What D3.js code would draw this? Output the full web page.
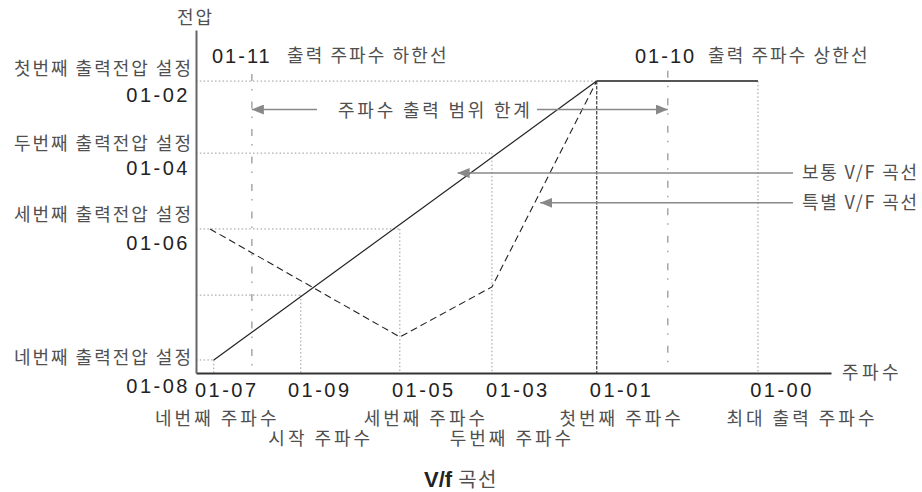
<!DOCTYPE html>
<html><head><meta charset="utf-8">
<script src="https://cdn.jsdelivr.net/npm/d3@7"></script>
<style>
html,body{margin:0;padding:0;background:#fff;}
svg{display:block;}
.kr{font-family:"Noto Sans CJK KR","Noto Sans",sans-serif;fill:#505050;}
.num{font-family:"Liberation Sans",Arial,sans-serif;fill:#222;}
</style></head>
<body>
<svg id="chart" width="922" height="492"></svg>
<script>
// ---- data (abstract frequency / voltage units) ----
const bottomTicks = ["01-07","01-09","01-05","01-03","01-01","01-00"];
const bottomFreq  = [2.8, 16.5, 32.1, 46.6, 63.1, 88.5];
const bottomNames = ["네번째 주파수","시작 주파수","세번째 주파수","두번째 주파수","첫번째 주파수","최대 출력 주파수"];
const limitTicks  = ["01-11","01-10"];
const limitFreq   = [8.8, 74.3];
const limitNames  = ["출력 주파수 하한선","출력 주파수 상한선"];
const voltTicks   = ["01-02","01-04","01-06","01-08"];
const voltValues  = [85.1, 64.1, 42.0, 3.8];
const voltNames   = ["첫번째 출력전압 설정","두번째 출력전압 설정","세번째 출력전압 설정","네번째 출력전압 설정"];
const startVolt   = 22.7;   // voltage of the straight curve at 01-09
const normalFreq  = [2.8, 63.1, 88.5];
const normalVolt  = [3.8, 85.1, 85.1];
const specialFreq = [2.2, 32.1, 46.6, 63.1];
const specialVolt = [42.0, 10.5, 25.1, 85.1];
const legendNames = ["보통 V/F 곡선","특별 V/F 곡선"];
const legendTip   = [[41.2, 58.3],[54.2, 49.6]]; // [freq, volt] where arrows point
const rangeLabel  = "주파수 출력 범위 한계";
const axisY = "전압", axisX = "주파수";

// ---- layout ----
const W = 922, H = 492;
const svg = d3.select("#chart");
const x = d3.scaleLinear().domain([0,100]).range([196,831]);
const y = d3.scaleLinear().domain([0,100]).range([373,30]);
const numOffset  = [13, 19, 24, 26, 25, 24];
const nameOffset = [3.5, 20, 26, 20, 25, 44];
const nameRow    = [0, 1, 0, 1, 0, 0];

const defs = svg.append("defs");
defs.append("marker").attr("id","arr").attr("viewBox","0 0 12 10").attr("refX",12).attr("refY",5)
  .attr("markerWidth",12).attr("markerHeight",10).attr("markerUnits","userSpaceOnUse").attr("orient","auto")
  .append("path").attr("d","M0,0 L12,5 L0,10 Z").attr("fill","#888");

const dotted = {stroke:"#9a9a9a","stroke-width":1,"stroke-dasharray":"1.5,2.3",fill:"none"};
function seg(x1,y1,x2,y2,st){
  const l = svg.append("line").attr("x1",x1).attr("y1",y1).attr("x2",x2).attr("y2",y2);
  Object.entries(st).forEach(([k,v])=>l.attr(k,v));
  return l;
}

// dotted guides: horizontal from axis to point, vertical from point to axis
voltValues.forEach((v,i)=>{
  const f = i===0 ? 63.1 : [null,46.6,32.1,2.8][i];
  seg(x(0), y(v), x(f), y(v), dotted);
  if(i>0) seg(x(f), y(v), x(f), y(0), dotted);
});
seg(x(0), y(startVolt), x(16.5), y(startVolt), dotted);
seg(x(16.5), y(startVolt), x(16.5), y(0), dotted);
seg(x(88.5), y(85.1), x(88.5), y(0), dotted);

// limit lines (dash-dot)
limitFreq.forEach((f,i)=>{
  seg(x(f), y(i===0?87.2:88.1), x(f), y(0), {stroke:"#999","stroke-width":1.3,"stroke-dasharray":"7,8,1.5,11"});
});
// 01-01 dashed
seg(x(63.1), y(85.1), x(63.1), y(0), {stroke:"#555","stroke-width":1.4,"stroke-dasharray":"3.5,1.5"});

// axes
const xAxis = d3.axisBottom(x).tickValues([]).tickSizeOuter(0);
const gx = svg.append("g").attr("transform",`translate(0,${y(0)})`).call(xAxis);
gx.select(".domain").attr("stroke","#333").attr("stroke-width",1.8);
const yAxis = d3.axisLeft(y).tickValues([]).tickSizeOuter(0);
const gy = svg.append("g").attr("transform",`translate(${x(0)},0)`).call(yAxis);
gy.select(".domain").attr("stroke","#666").attr("stroke-width",2);

// curves
const line = d3.line().x(d=>x(d[0])).y(d=>y(d[1]));
svg.append("path").datum(d3.zip(specialFreq, specialVolt)).attr("d",line)
  .attr("fill","none").attr("stroke","#222").attr("stroke-width",1.1).attr("stroke-dasharray","7,4");
svg.append("path").datum(d3.zip(normalFreq.slice(0,2), normalVolt.slice(0,2))).attr("d",line)
  .attr("fill","none").attr("stroke","#222").attr("stroke-width",1.2);
svg.append("path").datum(d3.zip(normalFreq.slice(1), normalVolt.slice(1))).attr("d",line)
  .attr("fill","none").attr("stroke","#555").attr("stroke-width",2);

// range arrows
seg(317, 109.5, x(limitFreq[0]), 109.5, {stroke:"#888","stroke-width":1.5}).attr("marker-end","url(#arr)");
seg(537, 109.5, x(limitFreq[1]), 109.5, {stroke:"#888","stroke-width":1.5}).attr("marker-end","url(#arr)");
svg.append("text").attr("class","kr").attr("x",338).attr("y",116.5).attr("font-size",18)
  .attr("letter-spacing",2.8).text(rangeLabel);

// legend arrows
legendNames.forEach((n,i)=>{
  const ty = y(legendTip[i][1]);
  seg(793, ty, x(legendTip[i][0]), ty, {stroke:"#888","stroke-width":1.5}).attr("marker-end","url(#arr)");
  svg.append("text").attr("class","kr").attr("x",802).attr("y",ty+6).attr("font-size",18)
    .attr("letter-spacing",1.8).text(n);
});

// y-axis labels
const yNameBase = [75,150,221,364], yNumBase = [102,175,250,393];
voltTicks.forEach((t,i)=>{
  svg.append("text").attr("class","kr").attr("x",193).attr("y",yNameBase[i]).attr("text-anchor","end")
    .attr("font-size",18).attr("letter-spacing",2).text(voltNames[i]);
  svg.append("text").attr("class","num").attr("x",190).attr("y",yNumBase[i]).attr("text-anchor","end")
    .attr("font-size",20).attr("letter-spacing",2.5).text(t);
});

// bottom labels
bottomTicks.forEach((t,i)=>{
  const cx = x(bottomFreq[i]);
  svg.append("text").attr("class","num").attr("x",cx+numOffset[i]).attr("y",397).attr("text-anchor","middle")
    .attr("font-size",20).attr("letter-spacing",2.5).text(t);
  svg.append("text").attr("class","kr").attr("x",cx+nameOffset[i]).attr("y",nameRow[i]?445:425)
    .attr("text-anchor","middle").attr("font-size",18).attr("letter-spacing",3).text(bottomNames[i]);
});

// top limit labels
const limitNumX = [212, 635], limitNameX = [287, 708];
limitTicks.forEach((t,i)=>{
  svg.append("text").attr("class","num").attr("x",limitNumX[i]).attr("y",63).attr("font-size",20)
    .attr("letter-spacing",2).text(t);
  svg.append("text").attr("class","kr").attr("x",limitNameX[i]).attr("y",62).attr("font-size",18)
    .attr("letter-spacing",2.1).text(limitNames[i]);
});

// axis titles
svg.append("text").attr("class","kr").attr("x",177).attr("y",24).attr("font-size",18).attr("letter-spacing",2).text(axisY);
svg.append("text").attr("class","kr").attr("x",842).attr("y",379).attr("font-size",18).attr("letter-spacing",3.5).text(axisX);

// title
const tt = svg.append("text").attr("x",461).attr("y",487).attr("text-anchor","middle");
tt.append("tspan").attr("class","num").attr("font-weight","bold").attr("font-size",22).text("V/f ");
tt.append("tspan").attr("class","kr").attr("font-size",20).attr("letter-spacing",1.5).text("곡선");
</script>
</body></html>
